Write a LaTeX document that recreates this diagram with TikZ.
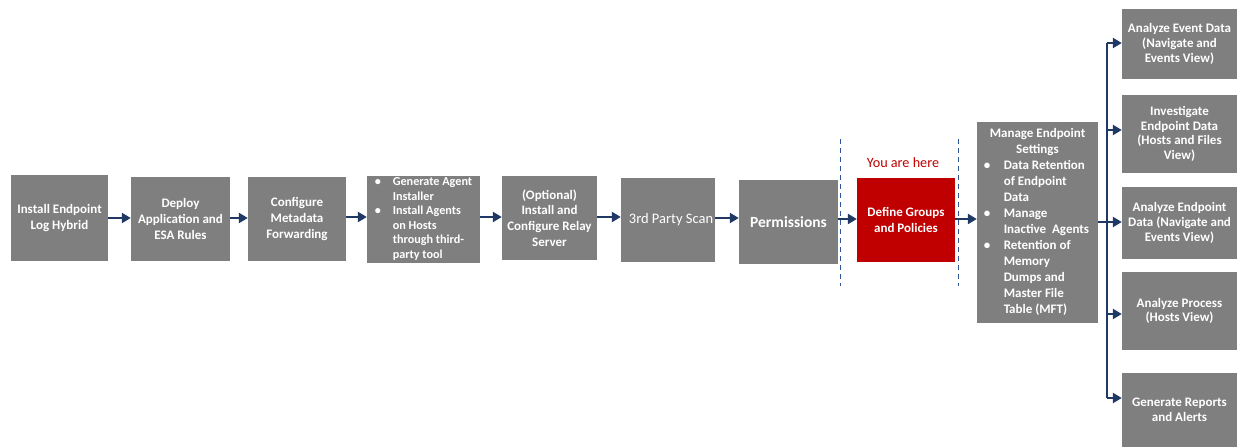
\documentclass[tikz,border=0pt]{standalone}
\usepackage{fontspec}
\setmainfont{Carlito}
\usetikzlibrary{arrows.meta}
\definecolor{boxgray}{HTML}{7F7F7F}
\definecolor{hotred}{HTML}{C00000}
\definecolor{navy}{HTML}{1F3864}
\definecolor{dashblue}{HTML}{2F5597}
\begin{document}
\begin{tikzpicture}[x=1pt,y=-1pt,
  stepbox/.style={fill=boxgray, text=white, inner sep=0pt, align=center,
    font=\bfseries\fontsize{13}{15.8}\selectfont},
  sidebox/.style={stepbox, minimum width=115pt, font=\bfseries\fontsize{13}{14.6}\selectfont},
  flow/.style={draw=navy, line width=2.2pt, -{Triangle[length=9pt,width=10pt]}},
  bus/.style={draw=navy, line width=2.2pt},
  marker/.style={draw=dashblue, line width=0.9pt, dash pattern=on 5pt off 4pt},
]
\useasboundingbox (0,0) rectangle (1237,447);

% main row
\node[stepbox, minimum width=97pt, minimum height=86pt] (b1) at (59.5,218) {Install Endpoint\\Log Hybrid};
\node[stepbox, minimum width=99pt, minimum height=84pt] (b2) at (180.5,219) {Deploy\\Application and\\ESA Rules};
\node[stepbox, minimum width=98pt, minimum height=84pt] (b3) at (297,219) {Configure\\Metadata\\Forwarding};
\node[stepbox, minimum width=113pt, minimum height=84pt, font=\bfseries\fontsize{12.2}{14.5}\selectfont] (b4) at (423.5,219)
  {\begin{tabular}{@{}p{18pt}@{}l@{}}
   \textbullet & Generate Agent\\
               & Installer\\
   \textbullet & Install Agents\\
               & on Hosts\\
               & through third-\\
               & party tool
   \end{tabular}};
\node[stepbox, minimum width=95pt, minimum height=84pt] (b5) at (549.5,218) {(Optional)\\Install and\\Configure Relay\\Server};
\node[stepbox, minimum width=94pt, minimum height=84pt, font=\fontsize{14.5}{16}\selectfont] (b6) at (668,220) {\hspace*{6pt}3rd Party Scan};
\node[stepbox, minimum width=99pt, minimum height=84pt, font=\bfseries\fontsize{15.5}{17}\selectfont] (b7) at (788.5,222) {Permissions};
\node[stepbox, fill=hotred, minimum width=98pt, minimum height=84pt] (b8) at (906,220) {Define Groups\\and Policies};
\node[text=hotred, font=\fontsize{14.2}{16}\selectfont, inner sep=0pt] (here) at (903,163) {You are here};

\node[stepbox, minimum width=121pt, minimum height=201pt, font=\bfseries\fontsize{13}{16}\selectfont] (b9) at (1037.5,222.5)
  {\begin{tabular}{@{}p{20pt}@{}l@{}}
   \multicolumn{2}{c}{Manage Endpoint}\\
   \multicolumn{2}{c}{Settings}\\
   \textbullet & Data Retention\\
               & of Endpoint\\
               & Data\\
   \textbullet & Manage\\
               & Inactive\ \ Agents\\
   \textbullet & Retention of\\
               & Memory\\
               & Dumps and\\
               & Master File\\
               & Table (MFT)
   \end{tabular}};

% right column
\node[sidebox, minimum height=70pt] (r1) at (1179.5,44) {Analyze Event Data\\(Navigate and\\Events View)};
\node[sidebox, minimum height=78pt] (r2) at (1179.5,134) {Investigate\\Endpoint Data\\(Hosts and Files\\View)};
\node[sidebox, minimum height=72pt] (r3) at (1179.5,223) {Analyze Endpoint\\Data (Navigate and\\Events View)};
\node[sidebox, minimum height=78pt] (r4) at (1179.5,311) {Analyze Process\\(Hosts View)};
\node[sidebox, minimum height=74pt] (r5) at (1179.5,410) {Generate Reports\\and Alerts};

% dashed markers
\draw[marker] (840,139) -- (840,286);
\draw[marker] (958,139) -- (958,286);

% connectors
\draw[flow] (b1.east |- 0,218) -- (b2.west |- 0,218);
\draw[flow] (b2.east |- 0,218) -- (b3.west |- 0,218);
\draw[flow] (b3.east |- 0,217) -- (b4.west |- 0,217);
\draw[flow] (b4.east |- 0,217) -- (b5.west |- 0,217);
\draw[flow] (b5.east |- 0,217) -- (b6.west |- 0,217);
\draw[flow] (b6.east |- 0,218) -- (b7.west |- 0,218);
\draw[flow] (b7.east |- 0,219) -- (b8.west |- 0,219);
\draw[flow] (b8.east |- 0,219) -- (b9.west |- 0,219);

\coordinate (bustop) at (1107,43);
\coordinate (busbot) at (1107,398);
\draw[bus] (b9.east |- 0,222) -- (bustop |- 0,222);
\draw[bus] (bustop) -- (busbot);
\draw[flow] (bustop) -- (r1.west |- bustop);
\draw[flow] (bustop |- 0,130) -- (r2.west |- 0,130);
\draw[flow] (bustop |- 0,222) -- (r3.west |- 0,222);
\draw[flow] (bustop |- 0,314) -- (r4.west |- 0,314);
\draw[flow] (busbot) -- (r5.west |- busbot);
\end{tikzpicture}
\end{document}
